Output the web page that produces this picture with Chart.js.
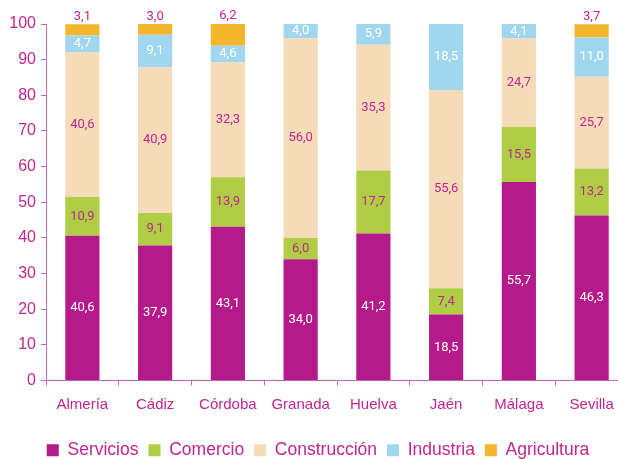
<!DOCTYPE html>
<html>
<head>
<meta charset="utf-8">
<script src="https://cdn.jsdelivr.net/npm/chart.js@4.4.1/dist/chart.umd.min.js"></script>
<style>
  html, body { margin: 0; padding: 0; background: #fff; overflow: hidden; }
  #wrap { width: 618px; height: 459px; overflow: hidden; }
</style>
</head>
<body>
<div id="wrap"><canvas id="chart" width="634" height="469"></canvas></div>
<script>
// provincias y reparto por sector (%)
const provincias = ['Almería', 'Cádiz', 'Córdoba', 'Granada', 'Huelva', 'Jaén', 'Málaga', 'Sevilla'];
const servicios    = [40.6, 37.9, 43.1, 34.0, 41.2, 18.5, 55.7, 46.3];
const comercio     = [10.9,  9.1, 13.9,  6.0, 17.7,  7.4, 15.5, 13.2];
const construccion = [40.6, 40.9, 32.3, 56.0, 35.3, 55.6, 24.7, 25.7];
const industria    = [ 4.7,  9.1,  4.6,  4.0,  5.9, 18.5,  4.1, 11.0];
const agricultura  = [ 3.1,  3.0,  6.2,  0,    0,    0,    0,    3.7];
const yTicks = [0, 10, 20, 30, 40, 50, 60, 70, 80, 90, 100];

const TEXTO = '#c0268f';
const EJE = '#c46aae';

// etiquetas de valor: color y si van encima de la barra
const estiloEtiquetas = [
  { color: '#ffffff' },
  { color: TEXTO },
  { color: TEXTO },
  { color: '#ffffff' },
  { color: TEXTO, encima: true }
];

const fmt = v => v.toFixed(1).replace('.', ',');

const etiquetasPlugin = {
  id: 'etiquetas',
  afterDatasetsDraw(chart) {
    const ctx = chart.ctx;
    ctx.save();
    ctx.font = '13px Roboto';
    ctx.textAlign = 'center';
    chart.data.datasets.forEach((ds, i) => {
      const meta = chart.getDatasetMeta(i);
      const est = estiloEtiquetas[i];
      meta.data.forEach((bar, j) => {
        const v = ds.data[j];
        if (!v) return;
        ctx.fillStyle = est.color;
        if (est.encima) {
          ctx.textBaseline = 'bottom';
          ctx.fillText(fmt(v), bar.x, bar.y - 1);
        } else {
          ctx.textBaseline = 'middle';
          ctx.fillText(fmt(v), bar.x, (bar.y + bar.base) / 2);
        }
      });
    });
    ctx.restore();
  }
};

const series = [
  { label: 'Servicios', data: servicios, color: '#b51a8a' },
  { label: 'Comercio', data: comercio, color: '#afce45' },
  { label: 'Construcción', data: construccion, color: '#f6dbb8' },
  { label: 'Industria', data: industria, color: '#a0d7ee' },
  { label: 'Agricultura', data: agricultura, color: '#f3b62d' }
];

new Chart(document.getElementById('chart'), {
  type: 'bar',
  data: {
    labels: provincias,
    datasets: series.map(s => ({
      label: s.label,
      data: s.data,
      backgroundColor: s.color,
      borderWidth: 0,
      barPercentage: 0.47,
      categoryPercentage: 1
    }))
  },
  options: {
    responsive: false,
    animation: false,
    layout: { padding: { top: 24, right: 6, left: 8, bottom: 0 } },
    plugins: {
      tooltip: { enabled: false },
      legend: {
        position: 'bottom',
        labels: {
          boxWidth: 12,
          boxHeight: 12,
          padding: 10,
          color: TEXTO,
          font: { family: 'Liberation Sans', size: 17.5 }
        }
      }
    },
    scales: {
      x: {
        stacked: true,
        afterFit(scale) { scale.height += 8; },
        border: { color: EJE, width: 1 },
        grid: { display: true, drawOnChartArea: false, tickLength: 5, color: EJE, offset: true },
        ticks: { color: TEXTO, padding: 10, font: { family: 'Liberation Sans', size: 15 } }
      },
      y: {
        stacked: true,
        min: 0,
        max: 100,
        afterFit(scale) { scale.width = 38; },
        afterBuildTicks(scale) { scale.ticks = yTicks.map(v => ({ value: v })); },
        border: { color: EJE, width: 1 },
        grid: { display: true, drawOnChartArea: false, tickLength: 5, color: EJE },
        ticks: { color: TEXTO, padding: 5, font: { family: 'Liberation Sans', size: 16 } }
      }
    }
  },
  plugins: [etiquetasPlugin]
});
</script>
</body>
</html>
